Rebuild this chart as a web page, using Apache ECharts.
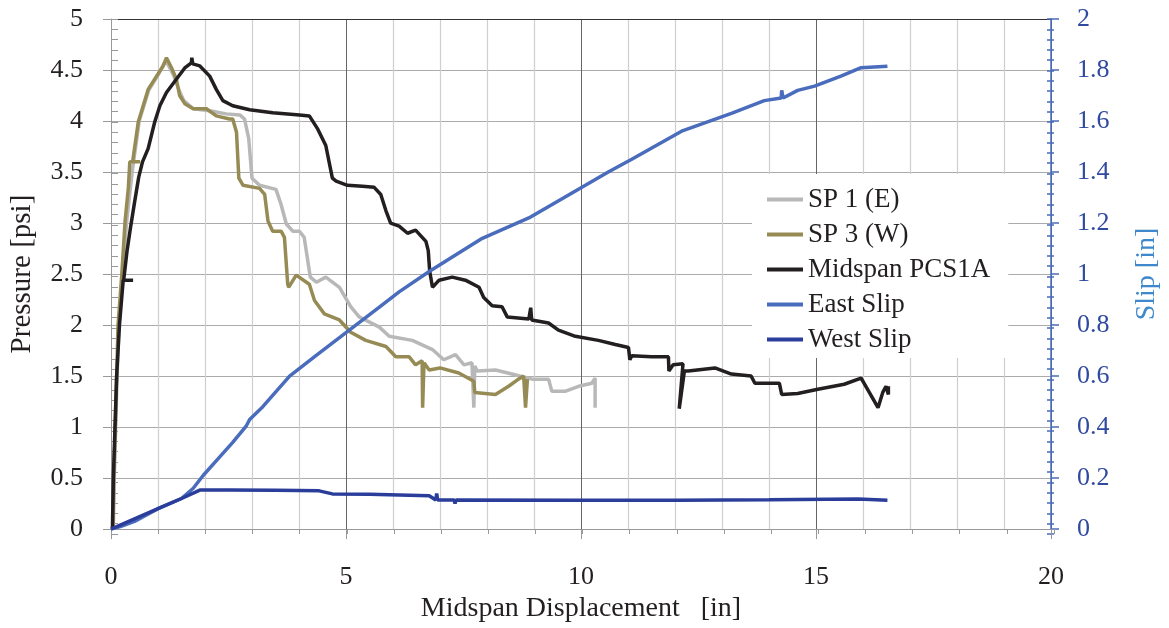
<!DOCTYPE html>
<html>
<head>
<meta charset="utf-8">
<script src="https://cdn.jsdelivr.net/npm/echarts@6/dist/echarts.min.js"></script>
<style>
html,body{margin:0;padding:0;background:#fff;}
#chart{width:1169px;height:628px;}
</style>
</head>
<body>
<div id="chart"></div>
<script>
// ---- data ----
var xTicks = [0, 5, 10, 15, 20];
var seriesNames = ['SP 1 (E)', 'SP 3 (W)', 'Midspan PCS1A', 'East Slip', 'West Slip'];

var sp1X = [0.05,0.07,0.10,0.13,0.17,0.25,0.33,0.45,0.60,0.80,1.00,1.15,1.22,1.33,1.45,1.55,1.75,2.10,2.45,2.74,2.84,2.93,3.00,3.16,3.51,3.62,3.73,3.87,4.01,4.11,4.24,4.37,4.57,4.86,5.10,5.28,5.71,5.92,6.41,6.84,7.08,7.33,7.51,7.68,7.72,7.74,7.79,8.18,8.53,8.96,9.31,9.38,9.66,9.95,10.23,10.30,10.30];
var sp1Y = [0,0.5,1.0,1.5,2.0,2.5,3.0,3.5,4.0,4.3,4.45,4.58,4.55,4.45,4.3,4.2,4.12,4.10,4.07,4.06,4.02,3.83,3.44,3.37,3.33,3.18,2.99,2.92,2.92,2.86,2.47,2.42,2.47,2.37,2.18,2.08,1.98,1.89,1.85,1.76,1.66,1.71,1.61,1.63,1.19,1.60,1.55,1.56,1.52,1.47,1.47,1.35,1.35,1.40,1.43,1.48,1.19];

var sp3X = [0.04,0.06,0.09,0.12,0.15,0.23,0.30,0.37,0.40,0.62,0.46,0.58,0.79,0.97,1.11,1.18,1.29,1.39,1.46,1.57,1.75,2.03,2.24,2.52,2.59,2.67,2.72,2.81,3.16,3.27,3.34,3.44,3.62,3.69,3.76,3.78,3.94,4.22,4.33,4.54,4.86,5.10,5.42,5.85,6.06,6.34,6.48,6.62,6.63,6.66,6.77,7.00,7.40,7.72,7.74,8.18,8.46,8.67,8.78,8.82,8.86];
var sp3Y = [0,0.5,1.0,1.5,2.0,2.5,3.02,3.35,3.6,3.6,3.6,3.99,4.31,4.44,4.54,4.62,4.52,4.41,4.25,4.17,4.12,4.12,4.05,4.02,4.02,3.89,3.44,3.37,3.34,3.28,3.02,2.92,2.92,2.86,2.40,2.37,2.49,2.40,2.24,2.11,2.05,1.93,1.85,1.79,1.69,1.69,1.61,1.65,1.19,1.63,1.56,1.58,1.53,1.45,1.34,1.32,1.40,1.47,1.50,1.19,1.47];

var midX = [0.03,0.05,0.085,0.12,0.18,0.26,0.47,0.27,0.34,0.42,0.50,0.59,0.67,0.79,0.93,1.04,1.18,1.39,1.57,1.71,1.72,1.74,1.89,2.10,2.24,2.38,2.59,2.95,3.44,4.01,4.22,4.40,4.57,4.64,4.71,4.79,5.03,5.35,5.60,5.74,5.85,5.95,6.13,6.31,6.48,6.70,6.75,6.78,6.84,6.98,7.26,7.54,7.83,7.93,8.11,8.32,8.43,8.89,8.93,8.95,9.31,9.52,9.88,10.37,10.73,11.01,11.04,11.08,11.50,11.86,11.87,11.96,12.17,12.09,12.20,12.28,12.85,13.20,13.62,13.70,14.22,14.27,14.61,15.04,15.60,15.96,16.32,16.42,16.49,16.54,16.54];
var midY = [0,0.5,1.0,1.5,2.0,2.44,2.44,2.44,2.72,2.97,3.2,3.45,3.6,3.73,3.99,4.15,4.28,4.41,4.52,4.57,4.62,4.56,4.54,4.44,4.31,4.20,4.15,4.11,4.08,4.06,4.05,3.92,3.76,3.6,3.44,3.41,3.37,3.36,3.35,3.28,3.12,3.0,2.97,2.9,2.93,2.82,2.73,2.53,2.37,2.44,2.47,2.44,2.37,2.27,2.19,2.18,2.08,2.06,2.17,2.05,2.02,1.95,1.89,1.85,1.81,1.78,1.66,1.70,1.69,1.69,1.55,1.61,1.62,1.18,1.55,1.55,1.58,1.52,1.50,1.43,1.43,1.32,1.33,1.37,1.42,1.48,1.19,1.34,1.40,1.32,1.40];

var eastX = [0,0.2,0.5,1.0,1.5,1.75,1.96,2.30,2.59,2.88,2.95,3.23,3.80,4.36,5.00,5.71,6.13,6.77,7.90,8.89,10.02,10.58,11.08,12.14,13.20,13.90,14.26,14.27,14.30,14.61,14.97,15.53,15.96,16.52];
var eastY = [0,0.01,0.03,0.08,0.12,0.16,0.21,0.28,0.34,0.405,0.43,0.48,0.60,0.68,0.77,0.87,0.93,1.01,1.14,1.22,1.34,1.40,1.45,1.56,1.63,1.68,1.69,1.72,1.69,1.72,1.737,1.776,1.809,1.815];

var westX = [0,0.5,1.0,1.5,1.89,2.5,3.5,4.43,4.71,5.5,6.13,6.77,6.91,6.93,6.95,7.30,7.32,7.34,10.0,12.0,14.0,15.9,16.52];
var westY = [0,0.04,0.08,0.12,0.153,0.153,0.152,0.15,0.138,0.137,0.134,0.131,0.114,0.14,0.114,0.114,0.10,0.114,0.113,0.113,0.115,0.118,0.113];

function zip(xs, ys){ return xs.map(function(x,i){ return [x, ys[i]]; }); }

var FONT = 'Liberation Serif, Times New Roman, serif';
var TXT = '#231f20';
var colors = ['#b8b8b8', '#968b54', '#231f20', '#4a6cbc', '#2b3d9b'];

var chart = echarts.init(document.getElementById('chart'), null, {renderer:'canvas'});

function lineSeries(idx, data, yAxisIndex){
  return {
    name: seriesNames[idx], type: 'line', data: data, yAxisIndex: yAxisIndex, xAxisIndex: 0,
    showSymbol: false, symbol: 'none', animation: false,
    lineStyle: {color: colors[idx], width: 3.5},
    itemStyle: {color: colors[idx]},
    z: 3 + idx
  };
}

var G = {left: 111, right: 115, top: 19, bottom: 94, containLabel: false};

var option = {
  animation: false,
  backgroundColor: '#fff',
  grid: [Object.assign({}, G), Object.assign({}, G)],
  legend: {
    data: seriesNames, orient: 'vertical', left: 752, top: 174,
    icon: 'rect', itemWidth: 36, itemHeight: 4, itemGap: 8,
    backgroundColor: '#ffffff', padding: [12, 18, 5, 15],
    textStyle: {fontFamily: FONT, fontSize: 27, color: TXT}
  },
  xAxis: [
    {
      gridIndex: 0, type: 'value', min: 0, max: 20, interval: 5, position: 'bottom',
      name: 'Midspan Displacement   [in]', nameLocation: 'middle', nameGap: 61,
      nameTextStyle: {fontFamily: FONT, fontSize: 28, color: TXT},
      axisLine: {show: true, onZero: false, lineStyle: {color: '#999', width: 1}},
      axisTick: {show: true, inside: false, length: 10, lineStyle: {color: '#999'}},
      minorTick: {show: false, splitNumber: 5},
      minorSplitLine: {show: true, lineStyle: {color: '#cfcfcf', width: 1.2}},
      splitLine: {show: true, lineStyle: {color: '#666', width: 1}},
      axisLabel: {margin: 35, fontFamily: FONT, fontSize: 26, color: TXT}
    },
    {
      gridIndex: 0, type: 'value', min: 0, max: 20, interval: 5, position: 'top',
      axisLine: {show: true, onZero: false, lineStyle: {color: '#333', width: 1.2}},
      axisTick: {show: false}, axisLabel: {show: false}, splitLine: {show: false}
    },
    {
      gridIndex: 1, type: 'value', min: 0, max: 20, interval: 1, position: 'bottom',
      axisLine: {show: false}, axisLabel: {show: false}, splitLine: {show: false},
      axisTick: {show: true, inside: true, length: 5, lineStyle: {color: '#999'}}
    }
  ],
  yAxis: [
    {
      gridIndex: 0, type: 'value', min: 0, max: 5, interval: 0.5, position: 'left',
      name: 'Pressure [psi]', nameLocation: 'middle', nameGap: 74, nameRotate: 90,
      nameTextStyle: {fontFamily: FONT, fontSize: 29, color: TXT},
      axisLine: {show: true, onZero: false, lineStyle: {color: '#999', width: 1}},
      axisTick: {show: true, inside: false, length: 8, lineStyle: {color: '#999'}},
      splitLine: {show: true, lineStyle: {color: '#ababab', width: 1.2}},
      axisLabel: {margin: 28, fontFamily: FONT, fontSize: 26, color: TXT}
    },
    {
      gridIndex: 1, type: 'value', min: 0, max: 5, interval: 0.1, position: 'left',
      axisLine: {show: false}, axisLabel: {show: false}, splitLine: {show: false},
      axisTick: {show: true, inside: true, length: 7, lineStyle: {color: '#999'}}
    },
    {
      gridIndex: 0, type: 'value', min: 0, max: 2, interval: 0.2, position: 'right',
      name: 'Slip [in]', nameLocation: 'middle', nameGap: 82, nameRotate: 90,
      nameTextStyle: {fontFamily: FONT, fontSize: 28, color: '#3f88cc'},
      axisLine: {show: true, onZero: false, lineStyle: {color: '#4a6cbc', width: 1.5}},
      axisTick: {show: true, inside: false, length: 8, lineStyle: {color: '#4a6cbc', width: 1.5}},
      splitLine: {show: false},
      axisLabel: {margin: 26, fontFamily: FONT, fontSize: 26, color: '#2f4a9f'}
    },
    {
      gridIndex: 1, type: 'value', min: 0, max: 2, interval: 0.04, position: 'right',
      axisLine: {show: false}, axisLabel: {show: false}, splitLine: {show: false},
      axisTick: {show: true, inside: true, length: 7, lineStyle: {color: '#4a6cbc', width: 1.5}}
    }
  ],
  series: [
    lineSeries(0, zip(sp1X, sp1Y), 0),
    lineSeries(1, zip(sp3X, sp3Y), 0),
    lineSeries(2, zip(midX, midY), 0),
    lineSeries(3, zip(eastX, eastY), 2),
    lineSeries(4, zip(westX, westY), 2)
  ]
};
chart.setOption(option);
</script>
</body>
</html>
